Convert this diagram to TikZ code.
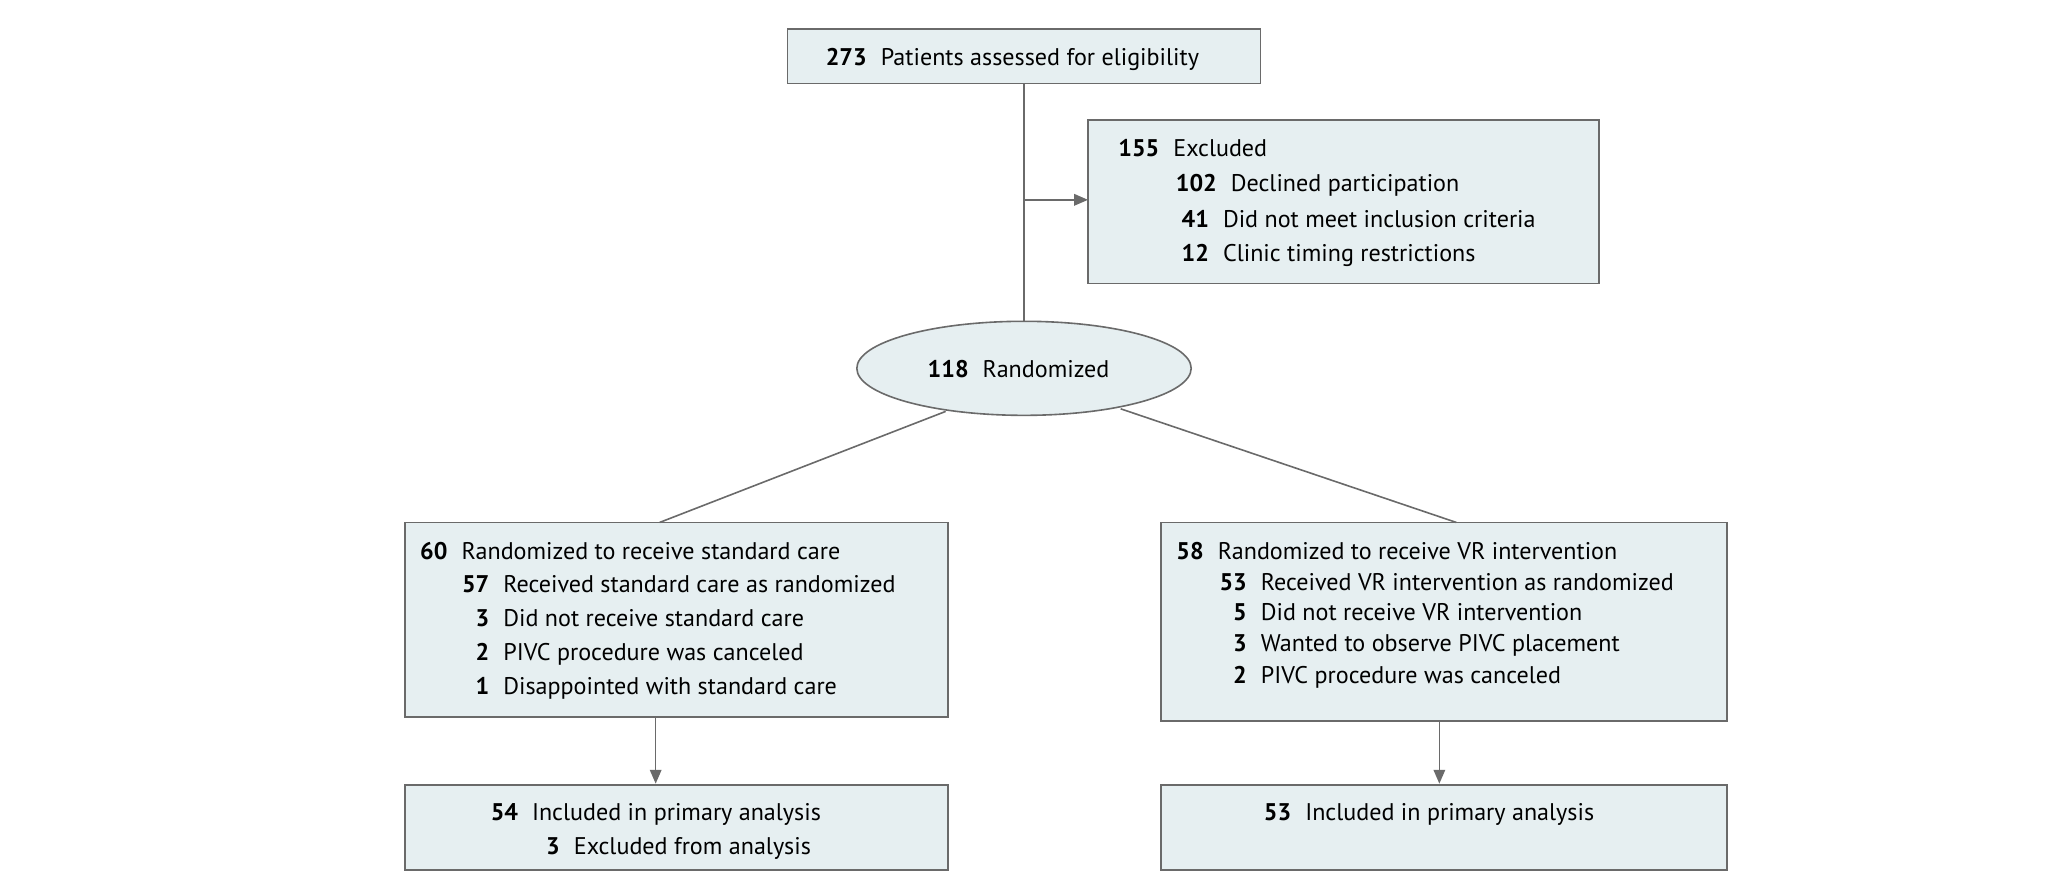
\documentclass[tikz,border=0pt]{standalone}
\usepackage{fontspec}
\setmainfont{PT Sans}
\usetikzlibrary{arrows.meta}
\definecolor{boxfill}{HTML}{E6EFF1}
\definecolor{edge}{HTML}{6A6A6A}
\newcommand{\fline}[5]{%
  \node[num] (#1n) at (#2,#3) {#4};
  \node[txt] (#1t) at ([xshift=0.2cm]#1n.base east) {#5};}
\begin{document}
\begin{tikzpicture}[x=0.02cm,y=-0.02cm,
  box/.style={draw=edge,fill=boxfill,line width=0.7pt},
  num/.style={anchor=base east,inner sep=0pt,font=\fontsize{10.5}{12}\selectfont\bfseries},
  txt/.style={anchor=base west,inner sep=0pt,font=\fontsize{10.5}{12}\selectfont},
  conn/.style={draw=edge,line width=0.7pt},
  arr/.style={conn,-{Triangle[length=6pt,width=5pt]}}]
\useasboundingbox (0,0) rectangle (1568,685);
\draw[box] (603,22) rectangle (965,64);
\draw[box] (833,92) rectangle (1224,217);
\draw[box] (784,282) ellipse [x radius=128, y radius=36];
\coordinate (etop) at (784,246);
\draw[box] (310,400) rectangle (726,549);
\draw[box] (889,400) rectangle (1322,552);
\draw[box] (310,601) rectangle (726,666);
\draw[box] (889,601) rectangle (1322,666);
\coordinate (topb) at (784,64);
\coordinate (br) at (784,153);
\coordinate (exl) at (833,153);
\draw[conn] (topb) -- (etop);
\draw[arr] (br) -- (exl);
\coordinate (e1) at (724,315); \coordinate (l1) at (505,400);
\coordinate (e2) at (858,313); \coordinate (r1) at (1115,400);
\draw[conn] (e1) -- (l1);
\draw[conn] (e2) -- (r1);
\coordinate (la) at (502,549); \coordinate (lb) at (502,600);
\coordinate (ra) at (1102,552); \coordinate (rb) at (1102,600);
\draw[arr] (la) -- (lb);
\draw[arr] (ra) -- (rb);
\fline{a}{664}{50}{273}{Patients assessed for eligibility}
\fline{b}{888}{120}{155}{Excluded}
\fline{c}{932}{147}{102}{Declined participation}
\fline{d}{926}{174}{41}{Did not meet inclusion criteria}
\fline{e}{926}{200}{12}{Clinic timing restrictions}
\fline{f}{742}{289}{118}{Randomized}
\fline{g}{343}{428}{60}{Randomized to receive standard care}
\fline{h}{375}{454}{57}{Received standard care as randomized}
\fline{i}{375}{480}{3}{Did not receive standard care}
\fline{j}{375}{506}{2}{PIVC procedure was canceled}
\fline{k}{375}{532}{1}{Disappointed with standard care}
\fline{l}{922}{428}{58}{Randomized to receive VR intervention}
\fline{m}{955}{452}{53}{Received VR intervention as randomized}
\fline{n}{955}{475}{5}{Did not receive VR intervention}
\fline{o}{955}{499}{3}{Wanted to observe PIVC placement}
\fline{p}{955}{523}{2}{PIVC procedure was canceled}
\fline{q}{397}{628}{54}{Included in primary analysis}
\fline{r}{429}{654}{3}{Excluded from analysis}
\fline{s}{989}{628}{53}{Included in primary analysis}
\end{tikzpicture}
\end{document}
